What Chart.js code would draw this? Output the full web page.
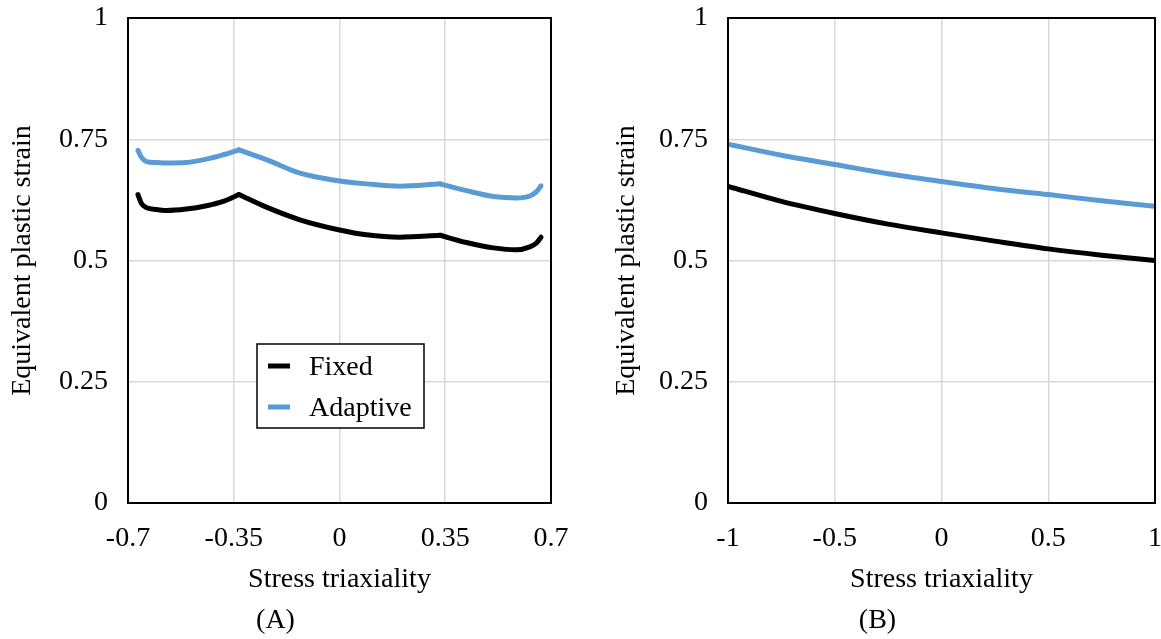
<!DOCTYPE html>
<html>
<head>
<meta charset="utf-8">
<script src="https://cdn.jsdelivr.net/npm/chart.js@4.4.0/dist/chart.umd.min.js"></script>
<style>
html, body { margin: 0; padding: 0; background: #fff; }
#wrap { position: relative; width: 1161px; height: 639px; }
#chart_a { position: absolute; left: 0; top: 0; }
#chart_b { position: absolute; left: 600px; top: 0; }
</style>
</head>
<body>
<div id="wrap">
    <canvas id="chart_a" width="580" height="639"></canvas>
    <canvas id="chart_b" width="561" height="639"></canvas>
</div>
<script>
// values
var series_names = ['Fixed', 'Adaptive'];
var series_colors = ['#000000', '#5b9bd5'];

var x_a = [-0.667, -0.656, -0.639, -0.606, -0.573, -0.507, -0.44, -0.385, -0.333,
    -0.242, -0.131, 0, 0.089, 0.2, 0.333, 0.42, 0.509, 0.586, 0.63, 0.652, 0.667];
var fixed_a = [0.636, 0.618, 0.609, 0.605, 0.603, 0.606, 0.613, 0.622, 0.636,
    0.610, 0.584, 0.563, 0.553, 0.548, 0.552, 0.537, 0.526, 0.522, 0.528, 0.536, 0.548];
var adaptive_a = [0.727, 0.713, 0.704, 0.702, 0.701, 0.702, 0.709, 0.718, 0.728,
    0.708, 0.680, 0.664, 0.658, 0.653, 0.658, 0.644, 0.632, 0.629, 0.633, 0.642, 0.654];
var kinks_a = [-0.333, 0.333];
var x_ticks_a = [-0.7, -0.35, 0, 0.35, 0.7];

var x_b = [-1, -0.75, -0.5, -0.25, 0, 0.25, 0.5, 0.75, 1];
var fixed_b = [0.653, 0.622, 0.597, 0.575, 0.557, 0.540, 0.524, 0.511, 0.500];
var adaptive_b = [0.740, 0.717, 0.698, 0.679, 0.663, 0.648, 0.636, 0.623, 0.612];
var x_ticks_b = [-1, -0.5, 0, 0.5, 1];

var y_ticks = [0, 0.25, 0.5, 0.75, 1];

var FONT = "'Liberation Serif', 'Times New Roman', serif";
Chart.defaults.font.family = FONT;
Chart.defaults.color = '#000';

// break a series at the kink points so each piece is smoothed on its own
function splitSeries(xs, ys, kinks){
    var parts = [[]];
    xs.forEach(function(x, i){
        parts[parts.length - 1].push({x: x, y: ys[i]});
        if(kinks.indexOf(x) >= 0 && i > 0 && i < xs.length - 1){
            parts.push([{x: x, y: ys[i]}]);
        }
    });
    return parts;
}

function buildDatasets(xs, series, kinks){
    var datasets = [];
    series.forEach(function(ys, s){
        splitSeries(xs, ys, kinks).forEach(function(pts, p){
            datasets.push({
                label: series_names[s],
                inLegend: p == 0,
                data: pts,
                borderColor: series_colors[s],
                backgroundColor: series_colors[s],
                borderWidth: 5,
                borderCapStyle: 'round',
                pointRadius: 0,
                cubicInterpolationMode: 'monotone',
                fill: false
            });
        });
    });
    return datasets;
}

var boxPlugin = {
    id: 'box',
    afterDatasetsDraw: function(chart){
        var a = chart.chartArea, ctx = chart.ctx;
        ctx.save();
        ctx.strokeStyle = '#000';
        ctx.lineWidth = 2;
        ctx.strokeRect(a.left, a.top, a.right - a.left, a.bottom - a.top);
        ctx.restore();
    }
};

var legendBoxPlugin = {
    id: 'legendBox',
    afterDraw: function(chart){
        var ctx = chart.ctx;
        var items = chart.data.datasets.filter(function(d){ return d.inLegend; });
        ctx.save();
        ctx.fillStyle = '#fff';
        ctx.fillRect(257, 344, 167, 84);
        ctx.strokeStyle = '#000';
        ctx.lineWidth = 1.5;
        ctx.strokeRect(257, 344, 167, 84);
        ctx.font = '28px ' + FONT;
        ctx.textBaseline = 'middle';
        items.forEach(function(d, i){
            var y = 366 + i * 41;
            ctx.fillStyle = d.borderColor;
            ctx.fillRect(268, y - 2.5, 22, 5);
            ctx.fillStyle = '#000';
            ctx.fillText(d.label, 309, y + 2);
        });
        ctx.restore();
    }
};

function makeOptions(x_ticks, x_min, x_max, panel_label, y_title_pad, right_pad){
    return {
        responsive: false,
        animation: false,
        layout: { padding: { left: 0, right: right_pad, top: 18, bottom: 0 } },
        plugins: {
            legend: { display: false },
            tooltip: { enabled: false },
            title: {
                display: true,
                position: 'bottom',
                text: panel_label,
                color: '#000',
                font: { family: FONT, size: 28, weight: 'normal' },
                padding: { top: 0, bottom: 2 }
            }
        },
        scales: {
            x: {
                type: 'linear',
                min: x_min,
                max: x_max,
                afterBuildTicks: function(scale){
                    scale.ticks = x_ticks.map(function(v){ return {value: v}; });
                },
                afterFit: function(scale){
                    scale.height = 100.4;
                    scale.paddingLeft = 0;
                    scale.paddingRight = 0;
                },
                ticks: {
                    autoSkip: false,
                    maxRotation: 0,
                    padding: 19,
                    color: '#000',
                    font: { family: FONT, size: 28 },
                    callback: function(v){ return String(v); }
                },
                grid: { color: '#d9d9d9', lineWidth: 1.5, drawTicks: false },
                border: { display: true, color: '#000', width: 2 },
                title: {
                    display: true,
                    text: 'Stress triaxiality',
                    color: '#000',
                    font: { family: FONT, size: 28 },
                    padding: { top: 0, bottom: 7 }
                }
            },
            y: {
                type: 'linear',
                min: 0,
                max: 1,
                afterBuildTicks: function(scale){
                    scale.ticks = y_ticks.map(function(v){ return {value: v}; });
                },
                afterFit: function(scale){
                    scale.width = 128;
                    scale.paddingTop = 0;
                    scale.paddingBottom = 0;
                },
                ticks: {
                    padding: 20,
                    color: '#000',
                    font: { family: FONT, size: 28 },
                    callback: function(v){ return String(v); }
                },
                grid: { color: '#d9d9d9', lineWidth: 1.5, drawTicks: false },
                border: { display: true, color: '#000', width: 2 },
                title: {
                    display: true,
                    text: 'Equivalent plastic strain',
                    color: '#000',
                    font: { family: FONT, size: 28 },
                    padding: { top: y_title_pad, bottom: 0 }
                }
            }
        }
    };
}

this.generateChartA = function(){
    var ctx = document.getElementById('chart_a').getContext('2d');
    new Chart(ctx, {
        type: 'line',
        data: { datasets: buildDatasets(x_a, [fixed_a, adaptive_a], kinks_a) },
        options: makeOptions(x_ticks_a, -0.7, 0.7, '(A)', 6, 29),
        plugins: [boxPlugin, legendBoxPlugin]
    });
}

this.generateChartB = function(){
    var ctx = document.getElementById('chart_b').getContext('2d');
    new Chart(ctx, {
        type: 'line',
        data: { datasets: buildDatasets(x_b, [fixed_b, adaptive_b], []) },
        options: makeOptions(x_ticks_b, -1, 1, '(B)', 10, 6),
        plugins: [boxPlugin]
    });
}

generateChartA();
generateChartB();
</script>
</body>
</html>
